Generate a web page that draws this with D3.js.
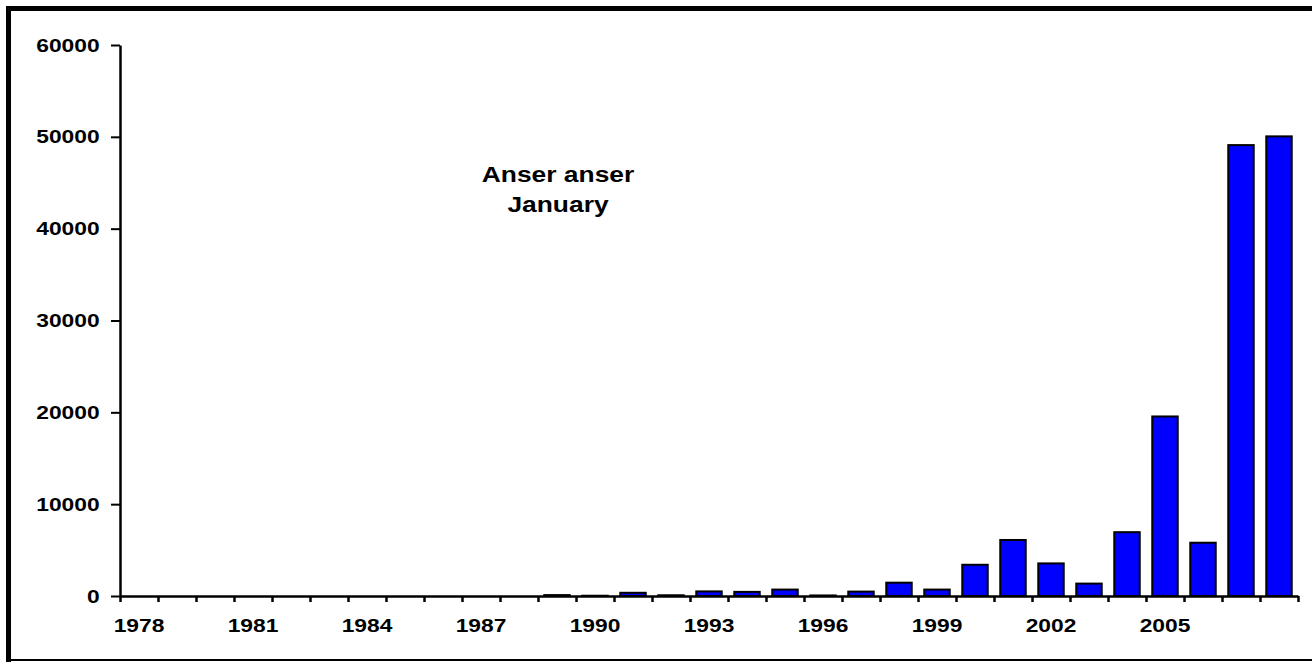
<!DOCTYPE html>
<html>
<head>
<meta charset="utf-8">
<script src="https://cdn.jsdelivr.net/npm/d3@7"></script>
<style>
  body { margin: 0; background: #fff; }
  svg { display: block; font-family: "Liberation Sans", Arial, sans-serif; font-weight: bold; }
</style>
</head>
<body>
<script>
// Données : comptage de Anser anser en janvier
const years = d3.range(1978, 2009)
const counts = [
    0, 0, 0, 0, 0, 0, 0, 0, 0, 0,     // 1978-1987
    0, 100, 30, 350, 80, 500, 450, 700, 60, 480, // 1988-1997
    1450, 700, 3400, 6100, 3550, 1350, 6950, 19550, 5800, 49100, // 1998-2007
    50050                              // 2008
]
const yTicks = [0, 10000, 20000, 30000, 40000, 50000, 60000]
const xLabels = [1978, 1981, 1984, 1987, 1990, 1993, 1996, 1999, 2002, 2005]
const titleLines = ["Anser anser", "January"]

const W = 1312, H = 662
const plot = { left: 120, right: 1298, top: 45, bottom: 596 }

const svg = d3.select("body").append("svg")
    .attr("width", W)
    .attr("height", H)

// cadre
svg.append("line").attr("x1", 6).attr("x2", W).attr("y1", 8.5).attr("y2", 8.5)
    .attr("stroke", "#000").attr("stroke-width", 5)
svg.append("line").attr("x1", 8.5).attr("x2", 8.5).attr("y1", 6).attr("y2", H)
    .attr("stroke", "#000").attr("stroke-width", 5)
svg.append("line").attr("x1", 6).attr("x2", W).attr("y1", 660).attr("y2", 660)
    .attr("stroke", "#000").attr("stroke-width", 2)

// échelles
const x = d3.scaleBand()
    .domain(years)
    .range([plot.left, plot.right])
    .paddingInner(0.33)
    .paddingOuter(0.165)

const xEdge = d3.scaleLinear()
    .domain([0, years.length])
    .range([plot.left, plot.right])

const y = d3.scaleLinear()
    .domain([0, 60000])
    .range([plot.bottom, plot.top])

// barres
svg.append("g")
    .selectAll("rect")
    .data(years)
    .join("rect")
    .attr("x", d => x(d))
    .attr("width", x.bandwidth())
    .attr("y", (d, i) => y(counts[i]))
    .attr("height", (d, i) => y(0) - y(counts[i]))
    .attr("fill", "#0000ff")
    .attr("stroke", "#000")
    .attr("stroke-width", 2)

// axe Y
const gy = svg.append("g")
    .attr("transform", "translate(" + plot.left + ",0)")
    .call(d3.axisLeft(y).tickValues(yTicks).tickFormat(d3.format("d"))
        .tickSize(9).tickPadding(8).tickSizeOuter(0))
gy.select(".domain").attr("stroke-width", 2.5)
gy.selectAll(".tick line").attr("stroke-width", 2)
gy.selectAll("text")
    .attr("font-size", 19)
    .attr("font-family", "Liberation Sans, Arial, sans-serif")
    .attr("font-weight", "bold")
    .attr("transform", "scale(1.2,1)")

// axe X (graduations entre les catégories)
const gx = svg.append("g")
    .attr("transform", "translate(0," + plot.bottom + ")")
    .call(d3.axisBottom(xEdge).tickValues(d3.range(years.length + 1)).tickFormat("").tickSize(6).tickSizeOuter(0))
gx.select(".domain").attr("stroke-width", 2.5)
gx.selectAll(".tick line").attr("stroke-width", 2.5)

const gxl = svg.append("g")
    .attr("transform", "translate(0," + plot.bottom + ")")
    .call(d3.axisBottom(x).tickValues(xLabels).tickSize(0).tickPadding(23))
gxl.select(".domain").remove()
gxl.selectAll("text")
    .attr("font-size", 19)
    .attr("font-family", "Liberation Sans, Arial, sans-serif")
    .attr("font-weight", "bold")
    .attr("transform", "scale(1.2,1)")

// titre
titleLines.forEach((t, i) => {
    svg.append("text")
        .attr("transform", "translate(558," + (182 + i * 30) + ") scale(1.2,1)")
        .attr("text-anchor", "middle")
        .attr("font-size", 22)
        .text(t)
})
</script>
</body>
</html>
